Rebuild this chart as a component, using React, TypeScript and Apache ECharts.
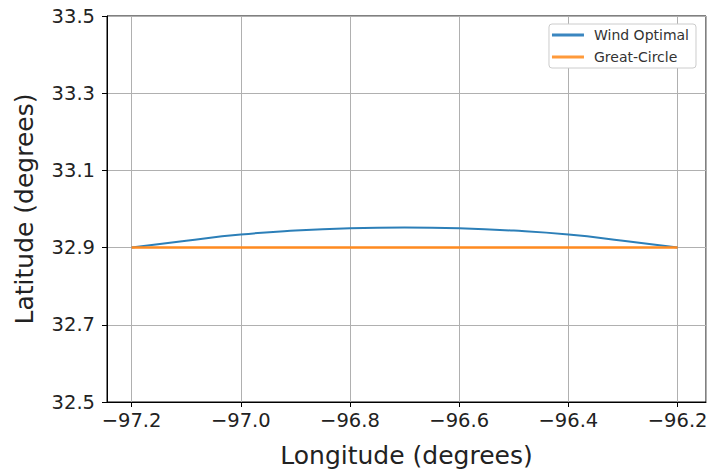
import React, { useEffect, useRef } from "react";
import * as echarts from "echarts";

const longitudes = [-97.2, -97.1, -97.0, -96.9, -96.8, -96.7, -96.6, -96.5, -96.4, -96.3, -96.2];
const windOptimal = [32.9, 32.918, 32.934, 32.944, 32.95, 32.952, 32.95, 32.944, 32.934, 32.918, 32.9];
const greatCircle = [32.9, 32.9, 32.9, 32.9, 32.9, 32.9, 32.9, 32.9, 32.9, 32.9, 32.9];
const seriesNames = ["Wind Optimal", "Great-Circle"];
const xTitle = "Longitude (degrees)";
const yTitle = "Latitude (degrees)";

const FONT = "DejaVu Sans";

export default function App() {
  const ref = useRef<HTMLDivElement>(null);
  useEffect(() => {
    if (!ref.current) return;
    const chart = echarts.init(ref.current, null, { renderer: "svg" });
    const pairs = (ys: number[]) => longitudes.map((x, i) => [x, ys[i]]);
    chart.setOption({
      animation: false,
      backgroundColor: "#ffffff",
      grid: {
        left: 107,
        right: 5,
        top: 16,
        bottom: 70,
        show: true,
        borderColor: "#000000",
        borderWidth: 1,
        backgroundColor: "transparent",
      },
      legend: {
        orient: "vertical",
        right: 15,
        top: 24,
        data: seriesNames,
        icon: "rect",
        itemWidth: 32,
        itemHeight: 3,
        itemGap: 8,
        padding: [4, 7, 4, 3],
        borderColor: "#cccccc",
        borderWidth: 1,
        borderRadius: 3,
        backgroundColor: "#ffffff",
        textStyle: { fontFamily: FONT, fontSize: 14, color: "#333", padding: [0, 0, 0, 5] },
      },
      xAxis: {
        type: "value",
        min: -97.245,
        max: -96.148,
        splitNumber: 5,
        name: xTitle,
        nameLocation: "middle",
        nameGap: 41,
        nameTextStyle: { fontFamily: FONT, fontSize: 25, color: "#222" },
        axisLine: { show: true, onZero: false, lineStyle: { color: "#000" } },
        axisTick: { show: true, length: 5, lineStyle: { color: "#000" } },
        axisLabel: {
          showMinLabel: false,
          showMaxLabel: false,
          margin: 8,
          fontFamily: FONT,
          fontSize: 19.5,
          color: "#222",
          formatter: (v: number) => (v < 0 ? "\u2212" : "") + Math.abs(v).toFixed(1),
        },
        splitLine: { show: true, lineStyle: { color: "#b0b0b0", width: 1 } },
      },
      yAxis: {
        type: "value",
        min: 32.5,
        max: 33.5,
        interval: 0.2,
        name: yTitle,
        nameLocation: "middle",
        nameGap: 70,
        nameTextStyle: { fontFamily: FONT, fontSize: 25, color: "#222" },
        axisLine: { show: true, onZero: false, lineStyle: { color: "#000" } },
        axisTick: { show: true, length: 5, lineStyle: { color: "#000" } },
        axisLabel: {
          margin: 12,
          fontFamily: FONT,
          fontSize: 19.5,
          color: "#222",
          formatter: (v: number) => v.toFixed(1),
        },
        splitLine: { show: true, lineStyle: { color: "#b0b0b0", width: 1 } },
      },
      series: [
        {
          name: seriesNames[0],
          type: "line",
          data: pairs(windOptimal),
          smooth: true,
          showSymbol: false,
          lineStyle: { color: "#2c7fb8", width: 2 },
          itemStyle: { color: "#3a86c0" },
          z: 3,
        },
        {
          name: seriesNames[1],
          type: "line",
          data: pairs(greatCircle),
          showSymbol: false,
          lineStyle: { color: "#ff8a1f", width: 2.5 },
          itemStyle: { color: "#ff9a3a" },
          z: 4,
        },
      ],
    });
    return () => chart.dispose();
  }, []);
  return <div ref={ref} style={{ width: 711, height: 473, position: "absolute", left: 0, top: 0 }} />;
}
